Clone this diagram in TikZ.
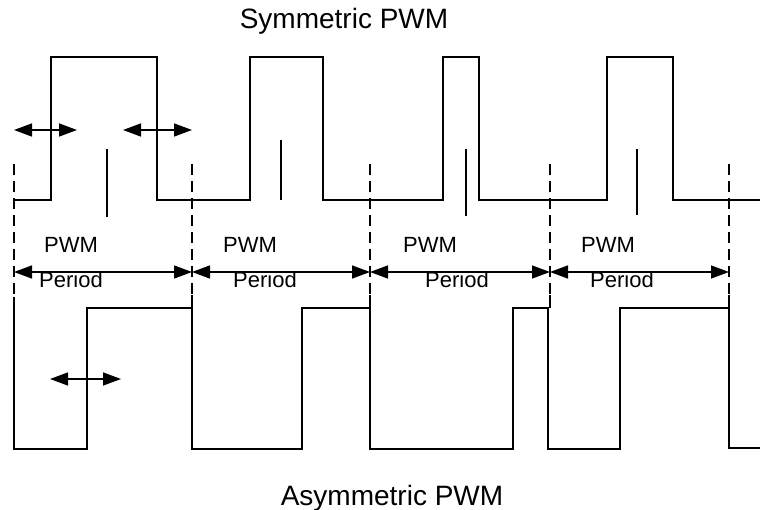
\documentclass[tikz,border=0pt]{standalone}
\usepackage{fontspec}
\setmainfont{Liberation Sans}
\usetikzlibrary{arrows.meta}
\begin{document}
\begin{tikzpicture}[x=1pt,y=-1pt,
  wave/.style={line width=2.9pt,line join=miter},
  centremark/.style={line width=2.8pt},
  guide/.style={line width=1.5pt,dash pattern=on 11pt off 6pt},
  dim/.style={line width=1.4pt,{Triangle[length=18pt,width=13pt]}-{Triangle[length=18pt,width=13pt]}},
  lbl/.style={font=\fontsize{22}{24}\selectfont,anchor=base,inner sep=0pt},
  ttl/.style={font=\fontsize{28}{30}\selectfont,anchor=base,inner sep=0pt}]
\useasboundingbox (0,0) rectangle (760,510);
% titles
\node[ttl] (tsym) at (344,29) {Symmetric PWM};
\node[ttl] (tasym) at (392,505) {Asymmetric PWM};
% guide lines
\foreach \x/\n in {14/a,192/b,370/c,550/d,729/e}{
  \coordinate (gt\n) at (\x,164);
  \coordinate (gb\n) at (\x,297);
  \draw[guide] (gt\n) -- (gb\n);
}
\foreach \x in {192,370,550,729}{
  \draw[line width=1.4pt] (\x,295) -- (\x,308);
}
% symmetric waveform
\draw[wave] (14,200) -- (51,200) -- (51,57) -- (157,57) -- (157,200)
  -- (250,200) -- (250,57) -- (323,57) -- (323,200)
  -- (443,200) -- (443,57) -- (479,57) -- (479,200)
  -- (607,200) -- (607,57) -- (673,57) -- (673,200) -- (760,200);
% centre marks
\draw[centremark] (107,149) -- (107,217);
\draw[centremark] (281,140) -- (281,200);
\draw[centremark] (466,149) -- (466,216);
\draw[centremark] (637,149) -- (637,215);
% asymmetric waveform
\draw[wave] (14,297) -- (14,449) -- (87,449) -- (87,308) -- (192,308) -- (192,449)
  -- (302,449) -- (302,308) -- (370,308) -- (370,449)
  -- (513,449) -- (513,308) -- (548,308) -- (548,449)
  -- (620,449) -- (620,308) -- (729,308) -- (729,448) -- (760,448);
% small double arrows
\coordinate (s1a) at (14,130); \coordinate (s1b) at (77,130);
\coordinate (s2a) at (123,130); \coordinate (s2b) at (192,130);
\coordinate (s3a) at (50,379); \coordinate (s3b) at (121,379);
\draw[dim] (s1a) -- (s1b);
\draw[dim] (s2a) -- (s2b);
\draw[dim] (s3a) -- (s3b);
% period arrows
\coordinate (pa) at (14,272); \coordinate (pb) at (192,272);
\coordinate (pc) at (370,272); \coordinate (pd) at (550,272);
\coordinate (pe) at (729,272);
\draw[dim] (pa) -- (pb);
\draw[dim] (pb) -- (pc);
\draw[dim] (pc) -- (pd);
\draw[dim] (pd) -- (pe);
% labels
\node[lbl] (w1) at (71,253) {PWM};
\node[lbl] (w2) at (250,253) {PWM};
\node[lbl] (w3) at (430,253) {PWM};
\node[lbl] (w4) at (608,253) {PWM};
\node[lbl] (p1) at (71,288) {Period};
\node[lbl] (p2) at (265,288) {Period};
\node[lbl] (p3) at (457,288) {Period};
\node[lbl] (p4) at (622,288) {Period};
\end{tikzpicture}
\end{document}
